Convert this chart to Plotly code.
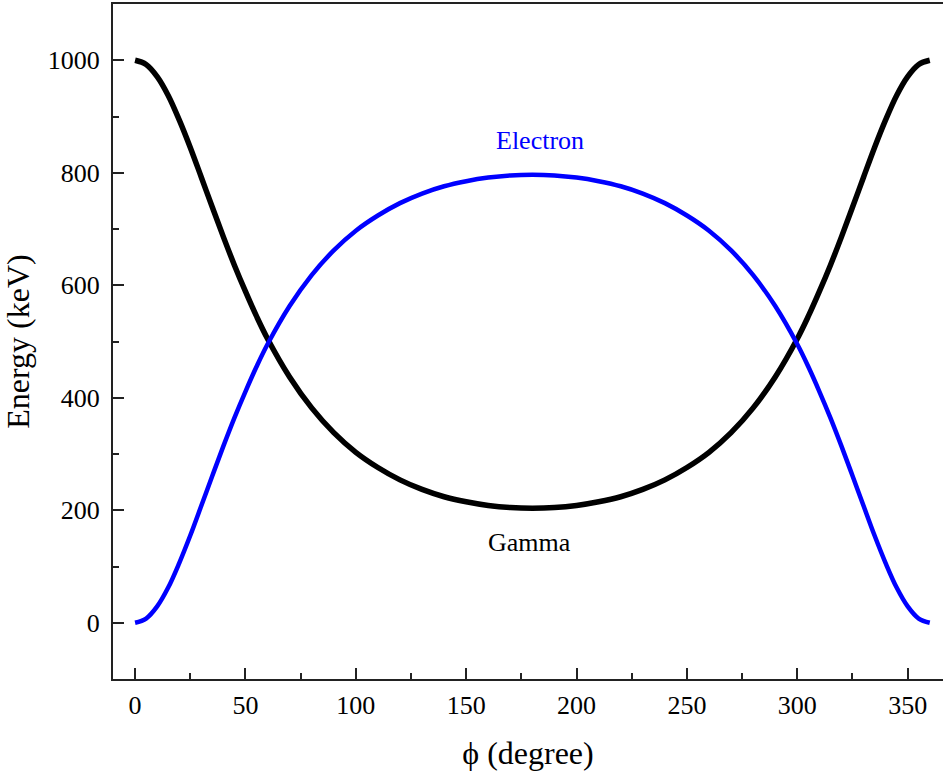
import plotly.graph_objects as go

phi = [0, 5, 10, 15, 20, 25, 30, 35, 40, 45, 50, 55, 60, 70, 80, 90, 100, 110, 120, 130, 140, 150, 160, 170, 180,
       190, 200, 210, 220, 230, 240, 250, 260, 270, 280, 290, 300, 305, 310, 315, 320, 325, 330, 335, 340, 345,
       350, 355, 360]
gamma = [1000, 992.6, 971, 937.5, 894, 845, 792, 738.6, 686, 635.7, 589, 545, 505, 437, 382, 338, 303, 276, 254,
         237, 224, 215, 208.5, 204.7, 203.5,
         204.7, 208.5, 215, 224, 237, 254, 276, 303, 338, 382, 437, 505, 545, 589, 635.7, 686, 738.6, 792, 845,
         894, 937.5, 971, 992.6, 1000]
electron = [1000 - g for g in gamma]

FONT = "Liberation Serif"

fig = go.Figure()
fig.add_trace(go.Scatter(x=phi, y=gamma, mode="lines", line=dict(color="black", width=5.5, shape="spline"),
                         showlegend=False))
fig.add_trace(go.Scatter(x=phi, y=electron, mode="lines", line=dict(color="#0000ff", width=4.5, shape="spline"),
                         showlegend=False))

fig.add_annotation(x=183.6, y=858, text="Electron", showarrow=False,
                   font=dict(family=FONT, size=26, color="#0000ff"))
fig.add_annotation(x=178.6, y=142, text="Gamma", showarrow=False,
                   font=dict(family=FONT, size=26, color="black"))

fig.update_layout(
    width=944, height=781,
    margin=dict(l=113, r=1, t=4, b=102),
    plot_bgcolor="white", paper_bgcolor="white",
    font=dict(family=FONT, size=26, color="black"),
    xaxis=dict(range=[-10, 366], showgrid=False, zeroline=False,
               showline=True, linecolor="#222", linewidth=2, mirror=True,
               ticks="inside", ticklen=11, tickwidth=1.5, tickcolor="#222",
               tickvals=[0, 50, 100, 150, 200, 250, 300, 350],
               minor=dict(ticks="inside", ticklen=6, tickwidth=1.5, tickcolor="#222", dtick=25, tick0=0),
               ticklabelstandoff=2,
               title=dict(text="ϕ (degree)", font=dict(family=FONT, size=32), standoff=22)),
    yaxis=dict(range=[-100, 1100], showgrid=False, zeroline=False,
               showline=True, linecolor="#222", linewidth=2, mirror=False,
               ticks="inside", ticklen=11, tickwidth=1.5, tickcolor="#222",
               tickvals=[0, 200, 400, 600, 800, 1000],
               minor=dict(ticks="inside", ticklen=6, tickwidth=1.5, tickcolor="#222", dtick=100, tick0=0),
               ticklabelstandoff=6,
               title=dict(text="Energy (keV)", font=dict(family=FONT, size=32), standoff=14)),
)

fig.write_html("out.html")
